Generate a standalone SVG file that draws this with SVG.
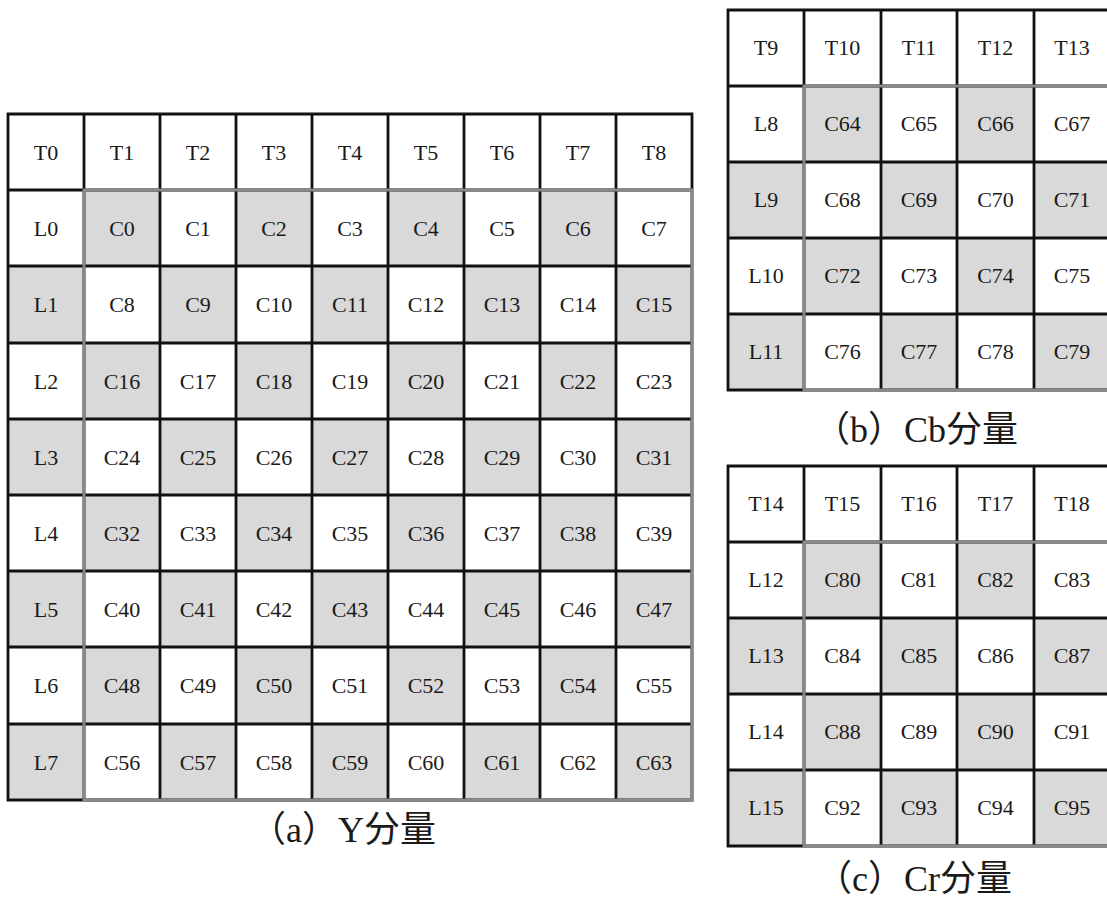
<svg xmlns="http://www.w3.org/2000/svg" width="1107" height="899" viewBox="0 0 1107 899">
  <style>
    .g { fill: #d9d9d9; }
    text { font-family: "Liberation Serif", "Noto Sans CJK SC", serif; font-size: 22px; fill: #1a1a1a; text-anchor: middle; }
    .grid { stroke: #111; stroke-width: 2.8; fill: none; stroke-linecap: square; }
    .edge { stroke: #8a8a8a; stroke-width: 3; fill: none; }
    text.cap { font-size: 36px; text-anchor: start; }
  </style>
  <rect width="1107" height="899" fill="#fff"/>

  <!-- (a) Y component: 9x9 block -->
  <g id="y-block">
    <g id="y-T0"><text x="46" y="159.5">T0</text></g>
    <g id="y-T1"><text x="122" y="159.5">T1</text></g>
    <g id="y-T2"><text x="198" y="159.5">T2</text></g>
    <g id="y-T3"><text x="274" y="159.5">T3</text></g>
    <g id="y-T4"><text x="350" y="159.5">T4</text></g>
    <g id="y-T5"><text x="426" y="159.5">T5</text></g>
    <g id="y-T6"><text x="502" y="159.5">T6</text></g>
    <g id="y-T7"><text x="578" y="159.5">T7</text></g>
    <g id="y-T8"><text x="654" y="159.5">T8</text></g>

    <g id="y-L0"><text x="46" y="235.5">L0</text></g>
    <g id="y-C0"><rect class="g" x="84" y="190" width="76" height="76"/><text x="122" y="235.5">C0</text></g>
    <g id="y-C1"><text x="198" y="235.5">C1</text></g>
    <g id="y-C2"><rect class="g" x="236" y="190" width="76" height="76"/><text x="274" y="235.5">C2</text></g>
    <g id="y-C3"><text x="350" y="235.5">C3</text></g>
    <g id="y-C4"><rect class="g" x="388" y="190" width="76" height="76"/><text x="426" y="235.5">C4</text></g>
    <g id="y-C5"><text x="502" y="235.5">C5</text></g>
    <g id="y-C6"><rect class="g" x="540" y="190" width="76" height="76"/><text x="578" y="235.5">C6</text></g>
    <g id="y-C7"><text x="654" y="235.5">C7</text></g>

    <g id="y-L1"><rect class="g" x="8" y="266" width="76" height="77"/><text x="46" y="312">L1</text></g>
    <g id="y-C8"><text x="122" y="312">C8</text></g>
    <g id="y-C9"><rect class="g" x="160" y="266" width="76" height="77"/><text x="198" y="312">C9</text></g>
    <g id="y-C10"><text x="274" y="312">C10</text></g>
    <g id="y-C11"><rect class="g" x="312" y="266" width="76" height="77"/><text x="350" y="312">C11</text></g>
    <g id="y-C12"><text x="426" y="312">C12</text></g>
    <g id="y-C13"><rect class="g" x="464" y="266" width="76" height="77"/><text x="502" y="312">C13</text></g>
    <g id="y-C14"><text x="578" y="312">C14</text></g>
    <g id="y-C15"><rect class="g" x="616" y="266" width="76" height="77"/><text x="654" y="312">C15</text></g>

    <g id="y-L2"><text x="46" y="388.5">L2</text></g>
    <g id="y-C16"><rect class="g" x="84" y="343" width="76" height="76"/><text x="122" y="388.5">C16</text></g>
    <g id="y-C17"><text x="198" y="388.5">C17</text></g>
    <g id="y-C18"><rect class="g" x="236" y="343" width="76" height="76"/><text x="274" y="388.5">C18</text></g>
    <g id="y-C19"><text x="350" y="388.5">C19</text></g>
    <g id="y-C20"><rect class="g" x="388" y="343" width="76" height="76"/><text x="426" y="388.5">C20</text></g>
    <g id="y-C21"><text x="502" y="388.5">C21</text></g>
    <g id="y-C22"><rect class="g" x="540" y="343" width="76" height="76"/><text x="578" y="388.5">C22</text></g>
    <g id="y-C23"><text x="654" y="388.5">C23</text></g>

    <g id="y-L3"><rect class="g" x="8" y="419" width="76" height="76"/><text x="46" y="464.5">L3</text></g>
    <g id="y-C24"><text x="122" y="464.5">C24</text></g>
    <g id="y-C25"><rect class="g" x="160" y="419" width="76" height="76"/><text x="198" y="464.5">C25</text></g>
    <g id="y-C26"><text x="274" y="464.5">C26</text></g>
    <g id="y-C27"><rect class="g" x="312" y="419" width="76" height="76"/><text x="350" y="464.5">C27</text></g>
    <g id="y-C28"><text x="426" y="464.5">C28</text></g>
    <g id="y-C29"><rect class="g" x="464" y="419" width="76" height="76"/><text x="502" y="464.5">C29</text></g>
    <g id="y-C30"><text x="578" y="464.5">C30</text></g>
    <g id="y-C31"><rect class="g" x="616" y="419" width="76" height="76"/><text x="654" y="464.5">C31</text></g>

    <g id="y-L4"><text x="46" y="540.5">L4</text></g>
    <g id="y-C32"><rect class="g" x="84" y="495" width="76" height="76"/><text x="122" y="540.5">C32</text></g>
    <g id="y-C33"><text x="198" y="540.5">C33</text></g>
    <g id="y-C34"><rect class="g" x="236" y="495" width="76" height="76"/><text x="274" y="540.5">C34</text></g>
    <g id="y-C35"><text x="350" y="540.5">C35</text></g>
    <g id="y-C36"><rect class="g" x="388" y="495" width="76" height="76"/><text x="426" y="540.5">C36</text></g>
    <g id="y-C37"><text x="502" y="540.5">C37</text></g>
    <g id="y-C38"><rect class="g" x="540" y="495" width="76" height="76"/><text x="578" y="540.5">C38</text></g>
    <g id="y-C39"><text x="654" y="540.5">C39</text></g>

    <g id="y-L5"><rect class="g" x="8" y="571" width="76" height="76"/><text x="46" y="616.5">L5</text></g>
    <g id="y-C40"><text x="122" y="616.5">C40</text></g>
    <g id="y-C41"><rect class="g" x="160" y="571" width="76" height="76"/><text x="198" y="616.5">C41</text></g>
    <g id="y-C42"><text x="274" y="616.5">C42</text></g>
    <g id="y-C43"><rect class="g" x="312" y="571" width="76" height="76"/><text x="350" y="616.5">C43</text></g>
    <g id="y-C44"><text x="426" y="616.5">C44</text></g>
    <g id="y-C45"><rect class="g" x="464" y="571" width="76" height="76"/><text x="502" y="616.5">C45</text></g>
    <g id="y-C46"><text x="578" y="616.5">C46</text></g>
    <g id="y-C47"><rect class="g" x="616" y="571" width="76" height="76"/><text x="654" y="616.5">C47</text></g>

    <g id="y-L6"><text x="46" y="693">L6</text></g>
    <g id="y-C48"><rect class="g" x="84" y="647" width="76" height="77"/><text x="122" y="693">C48</text></g>
    <g id="y-C49"><text x="198" y="693">C49</text></g>
    <g id="y-C50"><rect class="g" x="236" y="647" width="76" height="77"/><text x="274" y="693">C50</text></g>
    <g id="y-C51"><text x="350" y="693">C51</text></g>
    <g id="y-C52"><rect class="g" x="388" y="647" width="76" height="77"/><text x="426" y="693">C52</text></g>
    <g id="y-C53"><text x="502" y="693">C53</text></g>
    <g id="y-C54"><rect class="g" x="540" y="647" width="76" height="77"/><text x="578" y="693">C54</text></g>
    <g id="y-C55"><text x="654" y="693">C55</text></g>

    <g id="y-L7"><rect class="g" x="8" y="724" width="76" height="76"/><text x="46" y="769.5">L7</text></g>
    <g id="y-C56"><text x="122" y="769.5">C56</text></g>
    <g id="y-C57"><rect class="g" x="160" y="724" width="76" height="76"/><text x="198" y="769.5">C57</text></g>
    <g id="y-C58"><text x="274" y="769.5">C58</text></g>
    <g id="y-C59"><rect class="g" x="312" y="724" width="76" height="76"/><text x="350" y="769.5">C59</text></g>
    <g id="y-C60"><text x="426" y="769.5">C60</text></g>
    <g id="y-C61"><rect class="g" x="464" y="724" width="76" height="76"/><text x="502" y="769.5">C61</text></g>
    <g id="y-C62"><text x="578" y="769.5">C62</text></g>
    <g id="y-C63"><rect class="g" x="616" y="724" width="76" height="76"/><text x="654" y="769.5">C63</text></g>
  </g>

  <!-- (b) Cb component: 5x5 block -->
  <g id="cb-block">
    <g id="cb-T9"><text x="766" y="55.3">T9</text></g>
    <g id="cb-T10"><text x="842.5" y="55.3">T10</text></g>
    <g id="cb-T11"><text x="919" y="55.3">T11</text></g>
    <g id="cb-T12"><text x="995.5" y="55.3">T12</text></g>
    <g id="cb-T13"><text x="1072" y="55.3">T13</text></g>

    <g id="cb-L8"><text x="766" y="131.3">L8</text></g>
    <g id="cb-C64"><rect class="g" x="804" y="86" width="77" height="76"/><text x="842.5" y="131.3">C64</text></g>
    <g id="cb-C65"><text x="919" y="131.3">C65</text></g>
    <g id="cb-C66"><rect class="g" x="957" y="86" width="77" height="76"/><text x="995.5" y="131.3">C66</text></g>
    <g id="cb-C67"><text x="1072" y="131.3">C67</text></g>

    <g id="cb-L9"><rect class="g" x="728" y="162" width="76" height="76"/><text x="766" y="207.3">L9</text></g>
    <g id="cb-C68"><text x="842.5" y="207.3">C68</text></g>
    <g id="cb-C69"><rect class="g" x="881" y="162" width="76" height="76"/><text x="919" y="207.3">C69</text></g>
    <g id="cb-C70"><text x="995.5" y="207.3">C70</text></g>
    <g id="cb-C71"><rect class="g" x="1034" y="162" width="76" height="76"/><text x="1072" y="207.3">C71</text></g>

    <g id="cb-L10"><text x="766" y="283.3">L10</text></g>
    <g id="cb-C72"><rect class="g" x="804" y="238" width="77" height="76"/><text x="842.5" y="283.3">C72</text></g>
    <g id="cb-C73"><text x="919" y="283.3">C73</text></g>
    <g id="cb-C74"><rect class="g" x="957" y="238" width="77" height="76"/><text x="995.5" y="283.3">C74</text></g>
    <g id="cb-C75"><text x="1072" y="283.3">C75</text></g>

    <g id="cb-L11"><rect class="g" x="728" y="314" width="76" height="76"/><text x="766" y="359.3">L11</text></g>
    <g id="cb-C76"><text x="842.5" y="359.3">C76</text></g>
    <g id="cb-C77"><rect class="g" x="881" y="314" width="76" height="76"/><text x="919" y="359.3">C77</text></g>
    <g id="cb-C78"><text x="995.5" y="359.3">C78</text></g>
    <g id="cb-C79"><rect class="g" x="1034" y="314" width="76" height="76"/><text x="1072" y="359.3">C79</text></g>
  </g>

  <!-- (c) Cr component: 5x5 block -->
  <g id="cr-block">
    <g id="cr-T14"><text x="766" y="511.3">T14</text></g>
    <g id="cr-T15"><text x="842.5" y="511.3">T15</text></g>
    <g id="cr-T16"><text x="919" y="511.3">T16</text></g>
    <g id="cr-T17"><text x="995.5" y="511.3">T17</text></g>
    <g id="cr-T18"><text x="1072" y="511.3">T18</text></g>

    <g id="cr-L12"><text x="766" y="587.3">L12</text></g>
    <g id="cr-C80"><rect class="g" x="804" y="542" width="77" height="76"/><text x="842.5" y="587.3">C80</text></g>
    <g id="cr-C81"><text x="919" y="587.3">C81</text></g>
    <g id="cr-C82"><rect class="g" x="957" y="542" width="77" height="76"/><text x="995.5" y="587.3">C82</text></g>
    <g id="cr-C83"><text x="1072" y="587.3">C83</text></g>

    <g id="cr-L13"><rect class="g" x="728" y="618" width="76" height="76"/><text x="766" y="663.3">L13</text></g>
    <g id="cr-C84"><text x="842.5" y="663.3">C84</text></g>
    <g id="cr-C85"><rect class="g" x="881" y="618" width="76" height="76"/><text x="919" y="663.3">C85</text></g>
    <g id="cr-C86"><text x="995.5" y="663.3">C86</text></g>
    <g id="cr-C87"><rect class="g" x="1034" y="618" width="76" height="76"/><text x="1072" y="663.3">C87</text></g>

    <g id="cr-L14"><text x="766" y="739.3">L14</text></g>
    <g id="cr-C88"><rect class="g" x="804" y="694" width="77" height="76"/><text x="842.5" y="739.3">C88</text></g>
    <g id="cr-C89"><text x="919" y="739.3">C89</text></g>
    <g id="cr-C90"><rect class="g" x="957" y="694" width="77" height="76"/><text x="995.5" y="739.3">C90</text></g>
    <g id="cr-C91"><text x="1072" y="739.3">C91</text></g>

    <g id="cr-L15"><rect class="g" x="728" y="770" width="76" height="76"/><text x="766" y="815.3">L15</text></g>
    <g id="cr-C92"><text x="842.5" y="815.3">C92</text></g>
    <g id="cr-C93"><rect class="g" x="881" y="770" width="76" height="76"/><text x="919" y="815.3">C93</text></g>
    <g id="cr-C94"><text x="995.5" y="815.3">C94</text></g>
    <g id="cr-C95"><rect class="g" x="1034" y="770" width="76" height="76"/><text x="1072" y="815.3">C95</text></g>
  </g>

  <!-- grid rules: black cell borders, grey outline around the coefficient area -->
  <g id="rules">
    <path class="grid" d="M8 114H692M8 190H692M8 266H692M8 343H692M8 419H692M8 495H692M8 571H692M8 647H692M8 724H692M8 800H692
                          M8 114V800M84 114V800M160 114V800M236 114V800M312 114V800M388 114V800M464 114V800M540 114V800M616 114V800M692 114V800"/>
    <rect class="edge" x="84" y="190" width="608" height="610"/>

    <path class="grid" d="M728 10H1110M728 86H1110M728 162H1110M728 238H1110M728 314H1110M728 390H1110
                          M728 10V390M804 10V390M881 10V390M957 10V390M1034 10V390M1110 10V390"/>
    <rect class="edge" x="804" y="86" width="306" height="304"/>

    <path class="grid" d="M728 466H1110M728 542H1110M728 618H1110M728 694H1110M728 770H1110M728 846H1110
                          M728 466V846M804 466V846M881 466V846M957 466V846M1034 466V846M1110 466V846"/>
    <rect class="edge" x="804" y="542" width="306" height="304"/>
  </g>

  <!-- captions -->
  <g id="captions">
    <text class="cap" x="250" y="842">（a）Y分量</text>
    <text class="cap" x="814" y="442">（b）Cb分量</text>
    <text class="cap" x="816" y="891">（c）Cr分量</text>
  </g>
</svg>
